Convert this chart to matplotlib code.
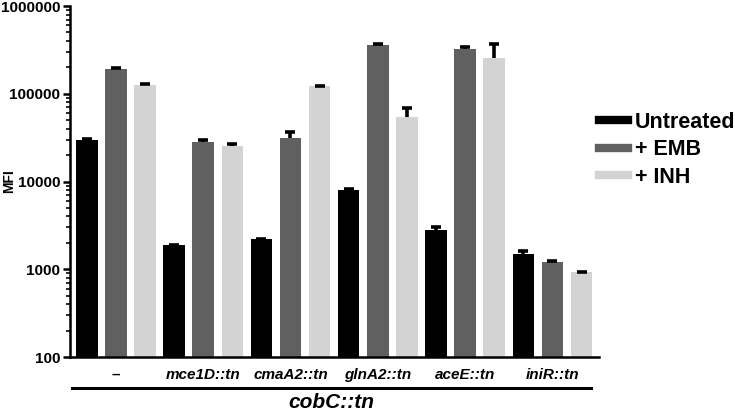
import matplotlib
matplotlib.use("Agg")
import matplotlib.pyplot as plt
import matplotlib.transforms as mtransforms
from matplotlib.lines import Line2D
from matplotlib.ticker import LogLocator, FixedLocator, FixedFormatter, NullFormatter
import numpy as np

plt.rcParams['font.family'] = ['Liberation Sans', 'DejaVu Sans']

groups = ['\u2013', 'mce1D::tn', 'cmaA2::tn', 'glnA2::tn', 'aceE::tn', 'iniR::tn']
series_names = ['Untreated', '+ EMB', '+ INH']
untreated = [30000, 1870, 2190, 7900, 2780, 1480]
emb = [190000, 28400, 31000, 360000, 325000, 1200]
inh = [126000, 25700, 121000, 55000, 257000, 920]
untreated_err = [400, 30, 20, 250, 250, 130]
emb_err = [4000, 1000, 6000, 9000, 14000, 30]
inh_err = [3000, 1200, 3000, 13000, 113000, 20]
colors = ['#000000', '#606060', '#d3d3d3']
group_title = 'cobC::tn'
ytick_vals = [100, 1000, 10000, 100000, 1000000]
ytick_labels = ['100', '1000', '10000', '100000', '1000000']

fig = plt.figure(figsize=(7.35, 4.11), dpi=100)
ax = fig.add_axes([70/735, 1 - 357/411, (599-70)/735, (357-6)/411])

series = [untreated, emb, inh]
errs = [untreated_err, emb_err, inh_err]
n = len(groups)
width = 0.74
for s in range(3):
    xs = np.arange(n) * 3 + s
    vals = np.array(series[s])
    ax.bar(xs, vals, width=width, color=colors[s], bottom=0, zorder=2)
    eb = ax.errorbar(xs, vals, yerr=[np.zeros(n), np.array(errs[s])], fmt='none',
                     ecolor='black', elinewidth=2.6, capsize=3.5, capthick=2.6, zorder=3)
    caps = eb[1]
    for cap in caps:
        yd = np.asarray(cap.get_ydata())
        if np.allclose(yd, vals):
            cap.set_visible(False)

ax.set_yscale('log')
ax.set_ylim(100, 1000000)
ax.set_xlim(-0.576, 17.6)
ax.yaxis.set_major_locator(FixedLocator(ytick_vals))
ax.yaxis.set_major_formatter(FixedFormatter(ytick_labels))
ax.yaxis.set_minor_locator(LogLocator(base=10, subs=np.arange(2, 10)))
ax.yaxis.set_minor_formatter(NullFormatter())
ax.tick_params(axis='y', which='major', length=5, width=1.8, direction='out', pad=2,
               labelsize=11)
ax.tick_params(axis='y', which='minor', length=3, width=1.2, direction='out')
for lab in ax.get_yticklabels():
    lab.set_fontweight('bold')
ax.set_xticks([])
for sp in ['top', 'right']:
    ax.spines[sp].set_visible(False)
ax.spines['left'].set_linewidth(1.8)
ax.spines['bottom'].set_linewidth(1.8)
fig.text(9/735, 1 - 181.5/411, 'MFI', rotation=90, ha='center', va='center',
         fontsize=10, fontweight='bold')

trans = mtransforms.blended_transform_factory(ax.transData, ax.transAxes)
for i, g in enumerate(groups):
    ax.text(i * 3 + 1, -0.051, g, transform=trans, ha='center', va='center',
            fontsize=11, fontweight='bold', fontstyle='italic' if i > 0 else 'normal')
ax.plot([-0.507, 17.33], [-0.088, -0.088], color='black', lw=2.2,
        transform=trans, clip_on=False)
ax.text((-0.507 + 17.33) / 2, -0.13, group_title, transform=trans, ha='center',
        va='center', fontsize=15, fontweight='bold', fontstyle='italic')

handles = [Line2D([0], [0], color=c, lw=6) for c in colors]
leg = ax.legend(handles, series_names, loc='center left', bbox_to_anchor=(1.0, 0.59),
                frameon=False, borderpad=0, borderaxespad=0, handlelength=1.35,
                handletextpad=0.3, labelspacing=0.3,
                prop={'size': 15.5, 'weight': 'bold'})

fig.savefig('out.png', dpi=100)
